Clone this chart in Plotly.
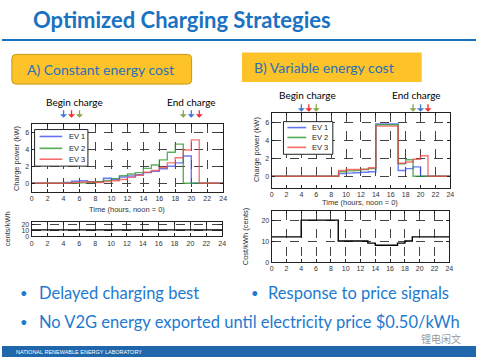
import plotly.graph_objects as go

W, H = 480, 360

# ---------------- data ----------------
hours = list(range(25))
hour_ticks = list(range(0, 25, 2))

# A) constant energy cost (kW per hour slot)
a_ev1 = [0, 0, 0, 0, 0.1, 0.25, 0.3, 0.2, 0.2, 0.6, 0.45, 0.75, 0.85, 1.0, 1.25, 1.4, 1.7, 2.0, 2.4, 3.2, 0, 0, 0, 0]
a_ev2 = [0, 0, 0, 0, 0, 0, 0.05, 0.1, 0.2, 0.35, 0.55, 0.9, 1.1, 1.25, 1.75, 2.15, 2.75, 3.65, 4.6, 0, 0, 0, 0, 0]
a_ev3 = [0, 0, 0, 0, 0, 0.1, 0.15, 0.15, 0.1, 0.2, 0.3, 0.45, 0.7, 0.95, 1.3, 1.5, 1.85, 2.4, 3.0, 3.9, 5.1, 0, 0, 0]
a_price = [11] * 24

# B) variable energy cost
b_ev1 = [0, 0, 0, 0, 0, 0, 0, 0, 0, 0.3, 0.35, 0.4, 0.45, 0.5, 5.85, 5.85, 5.85, 0.65, 0.85, 1.05, 0, 0, 0, 0]
b_ev2 = [0, 0, 0, 0, 0, 0, 0, 0, 0, 0.5, 0.6, 0.65, 0.75, 0.85, 5.75, 5.75, 5.75, 1.4, 1.85, 0, 0, 0, 0, 0]
b_ev3 = [0, 0, 0, 0, 0, 0, 0, 0, 0, 0.65, 0.75, 0.75, 0.8, 0.95, 5.6, 5.6, 5.6, 1.45, 1.6, 1.9, 2.3, 0, 0, 0]
b_price = [12, 12, 12, 12, 20, 20, 20, 20, 20, 10, 10, 10, 10, 9, 8, 8, 8, 9, 10, 12, 12, 12, 12, 12]

ev_names = ["EV 1", "EV 2", "EV 3"]
begin_hours = [4, 6, 5]
end_hours = [20, 19, 21]

# ---------------- helpers ----------------
def px(x):
    return x / W

def py(y):
    return 1 - y / H

def dom_x(a, b):
    return [px(a), px(b)]

def dom_y(top, bottom):
    return [py(bottom), py(top)]

ev_colors = ["rgba(60,80,240,0.75)", "rgba(40,150,40,0.75)", "rgba(245,70,70,0.75)"]
arrow_by_ev = {0: "#3d7ad6", 1: "#8aa64a", 2: "#f03030"}

fig = go.Figure()

def step(vals):
    return vals + [vals[-1]]

for i, vals in enumerate([a_ev1, a_ev2, a_ev3]):
    fig.add_trace(go.Scatter(x=hours, y=step(vals), mode="lines", line_shape="hv",
                             line=dict(color=ev_colors[i], width=1.4),
                             name=ev_names[i], showlegend=False, xaxis="x", yaxis="y"))
fig.add_trace(go.Scatter(x=hours, y=step(a_price), mode="lines", line_shape="hv",
                         line=dict(color="black", width=1.4), showlegend=False,
                         xaxis="x2", yaxis="y2"))
for i, vals in enumerate([b_ev1, b_ev2, b_ev3]):
    fig.add_trace(go.Scatter(x=hours, y=step(vals), mode="lines", line_shape="hv",
                             line=dict(color=ev_colors[i], width=1.4),
                             name=ev_names[i], showlegend=False, xaxis="x3", yaxis="y3"))
fig.add_trace(go.Scatter(x=hours, y=step(b_price), mode="lines", line_shape="hv",
                         line=dict(color="black", width=1.4), showlegend=False,
                         xaxis="x4", yaxis="y4"))

tickfont = dict(family="Liberation Sans, Arial", size=7, color="#333")

def xaxis(domain, anchor):
    return dict(domain=domain, anchor=anchor, range=[0, 24], tickvals=hour_ticks,
                ticks="inside", ticklen=3, tickcolor="#222", ticklabelstandoff=0,
                showline=True, linecolor="#222", linewidth=1, mirror="ticks",
                showgrid=True, gridcolor="#444", griddash="dash", gridwidth=0.8,
                zeroline=False, tickfont=tickfont, fixedrange=True)

def yaxis(domain, anchor, rng, tv):
    return dict(domain=domain, anchor=anchor, range=rng, tickvals=tv,
                ticks="inside", ticklen=3, tickcolor="#222",
                showline=True, linecolor="#222", linewidth=1, mirror="ticks",
                showgrid=True, gridcolor="#444", griddash="dash", gridwidth=0.8,
                zeroline=False, tickfont=tickfont, fixedrange=True)

fig.update_layout(
    width=W, height=H, margin=dict(l=0, r=0, t=0, b=0),
    paper_bgcolor="white", plot_bgcolor="white", showlegend=False,
    xaxis=xaxis(dom_x(30, 224), "y"),
    yaxis=yaxis(dom_y(124, 193), "x", [-1, 7], [0, 2, 4, 6]),
    xaxis2=xaxis(dom_x(30, 223), "y2"),
    yaxis2=yaxis(dom_y(223, 238), "x2", [0, 25], [0, 10, 20]),
    xaxis3=xaxis(dom_x(273, 454), "y3"),
    yaxis3=yaxis(dom_y(113, 189), "x3", [-1.3, 7.1], [0, 2, 4, 6]),
    xaxis4=xaxis(dom_x(273, 453), "y4"),
    yaxis4=yaxis(dom_y(212, 264), "x4", [0, 24.5], [0, 10, 20]),
)

shapes = []
ann = []

def text(x, y, t, font, xanchor="center", angle=0):
    ann.append(dict(x=px(x), y=py(y), xref="paper", yref="paper", xanchor=xanchor, yanchor="middle",
                    text=t, showarrow=False, font=font, textangle=angle))

# title and rule
text(29, 19, "<b>Optimized Charging Strategies</b>", dict(family="Lato", size=22, color="#1a72c2"), "left")
shapes.append(dict(type="line", xref="paper", yref="paper", x0=0, x1=1, y0=py(39.5), y1=py(39.5),
                   line=dict(color="#1672c0", width=2)))

# box A (rounded)
x0, x1, y0, y1, r = px(10), px(192), py(54), py(84), 4
rx, ry = r / W, r / H
path = (f"M {x0+rx},{y0} L {x1-rx},{y0} Q {x1},{y0} {x1},{y0-ry} L {x1},{y1+ry} "
        f"Q {x1},{y1} {x1-rx},{y1} L {x0+rx},{y1} Q {x0},{y1} {x0},{y1+ry} L {x0},{y0-ry} "
        f"Q {x0},{y0} {x0+rx},{y0} Z")
shapes.append(dict(type="path", xref="paper", yref="paper", path=path,
                   fillcolor="#fdc328", line=dict(color="#c9960f", width=1)))
boxfont = dict(family="Lato", size=14, color="#2a70b8")
text(100, 69, "A) Constant energy cost", boxfont)
shapes.append(dict(type="rect", xref="paper", yref="paper", x0=px(243), x1=px(425), y0=py(82), y1=py(52),
                   fillcolor="#fdc328", line=dict(width=0)))
text(326, 67.5, "B) Variable energy cost", boxfont)

# begin / end charge labels and arrows
lblfont = dict(family="Lato", size=10, color="black")
for (bx, ex, ty, tip, xa) in [(73, 192, 102, 118, "x"), (309, 420, 95, 112, "x3")]:
    text(bx, ty, "Begin charge", lblfont)
    text(ex, ty, "End charge", lblfont)
    for i in range(3):
        for hh in (begin_hours[i], end_hours[i]):
            ann.append(dict(x=hh, y=py(tip), xref=xa, yref="paper", text="", showarrow=True,
                            ax=0, ay=-9, arrowhead=1, arrowsize=0.9, arrowwidth=1.3,
                            arrowcolor=arrow_by_ev[i]))

# axis titles
afont = dict(family="Liberation Sans, Arial", size=7.5, color="#333")
text(127, 211, "Time (hours, noon = 0)", afont)
text(363, 204, "Time (hours, noon = 0)", afont)
text(14, 159, "Charge power (kW)", afont, angle=-90)
text(6, 230, "cents/kWh", afont, angle=-90)
text(258, 150, "Charge power (kW)", afont, angle=-90)
text(246, 238, "Cost/kWh (cents)", afont, angle=-90)

# legends (drawn)
legend_colors = ["rgba(60,80,240,0.8)", "rgba(40,150,40,0.8)", "rgba(245,70,70,0.8)"]
for (lx0, lx1, ly0, ly1, lnx0, lnx1, tx, rows) in [
        (33, 87, 130, 167, 38, 61, 66, [137, 149, 160]),
        (285, 335, 122, 155, 289, 308, 312, [128, 138, 148])]:
    shapes.append(dict(type="rect", xref="paper", yref="paper", x0=px(lx0), x1=px(lx1), y0=py(ly1), y1=py(ly0),
                       fillcolor="white", line=dict(color="#222", width=1)))
    for i, yy in enumerate(rows):
        shapes.append(dict(type="line", xref="paper", yref="paper", x0=px(lnx0), x1=px(lnx1), y0=py(yy), y1=py(yy),
                           line=dict(color=legend_colors[i], width=1.6)))
        text(tx, yy, ev_names[i], dict(family="Liberation Sans, Arial", size=7.5, color="#222"), "left")

# bullets
bfont = dict(family="Lato", size=16.5, color="#1e7ad0")
for (bx, tx, by, txt) in [(22, 35, 295, "Delayed charging best"), (256, 267, 295, "Response to price signals"),
                          (22, 35, 325, "No V2G energy exported until electricity price $0.50/kWh")]:
    text(bx, by, "•", dict(family="Lato", size=13, color="#1e7ad0"))
    text(tx, by, txt, bfont, "left")

# footer
shapes.append(dict(type="rect", xref="paper", yref="paper", x0=0, x1=1, y0=0, y1=py(349),
                   fillcolor="#1f66ab", line=dict(width=0)))
text(12, 354.5, "NATIONAL RENEWABLE ENERGY LABORATORY",
     dict(family="Liberation Sans, Arial", size=5.5, color="white"), "left")
text(445, 341, "锂电闲文", dict(family="Noto Sans CJK SC", size=10, color="#9a9a9a"))

fig.update_layout(shapes=shapes, annotations=ann)
fig.write_html("out.html", config={"displayModeBar": False},
               post_script="document.body.style.margin='0';document.body.style.overflow='hidden';")
